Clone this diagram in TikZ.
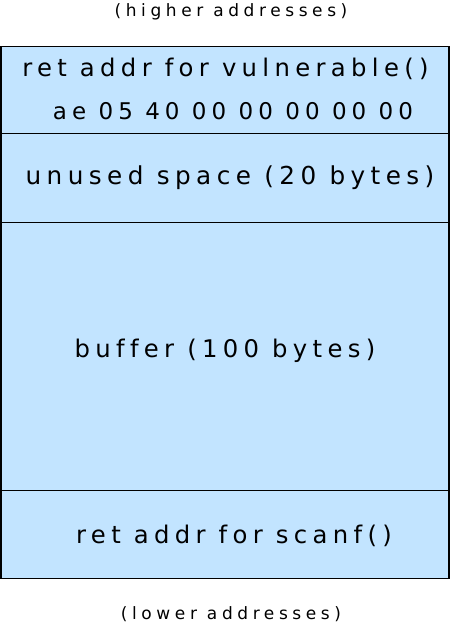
\documentclass[tikz,border=0pt]{standalone}
\usepackage{fontspec}
\setmainfont{DejaVu Sans}[LetterSpace=22, Ligatures=NoCommon]
\newfontfamily\notefont{DejaVu Sans}[LetterSpace=27, Ligatures=NoCommon]
\usetikzlibrary{positioning}
\definecolor{stackblue}{RGB}{194,228,255}
\tikzstyle{cell} = [draw=black, fill=stackblue, line width=1.4pt, minimum width=448pt, inner sep=0, outer sep=0]
\tikzstyle{big} = [font=\fontsize{24.3}{28}\selectfont, anchor=base, inner sep=0]
\tikzstyle{bytes} = [font=\fontsize{23}{27}\selectfont, anchor=base, inner sep=0]
\tikzstyle{small} = [font=\notefont\fontsize{17}{20}\selectfont, anchor=base, inner sep=0]

\begin{document}
\begin{tikzpicture}[x=1pt, y=-1pt]
	\useasboundingbox (0, 0) rectangle (450, 623);

	\node (High) [small] at (231, 17) {(higher addresses)};

	% return address of vulnerable()
	\node (RetVuln) [cell, minimum height=87pt] at (225, 90) {};
	\node (RetVulnText) [big] at (225.5, 76.5) {ret addr for vulnerable()};
	\node (RetVulnBytes) [bytes] at (233, 119) {ae 05 40 00 00 00 00 00};

	% unused space
	\node (Unused) [cell, minimum height=89pt, below=0pt of RetVuln] {};
	\node (UnusedText) [big, font=\fontsize{24.7}{28}\selectfont] at (230, 184) {unused space (20 bytes)};

	% the buffer
	\node (Buffer) [cell, minimum height=268pt, below=0pt of Unused] {};
	\node (BufferText) [big] at (225, 357) {buffer (100 bytes)};

	% return address of scanf()
	\node (RetScanf) [cell, minimum height=88pt, below=0pt of Buffer] {};
	\node (RetScanfText) [big] at (234, 543) {ret addr for scanf()};

	\node (Low) [small] at (231, 619) {(lower addresses)};
\end{tikzpicture}
\end{document}
